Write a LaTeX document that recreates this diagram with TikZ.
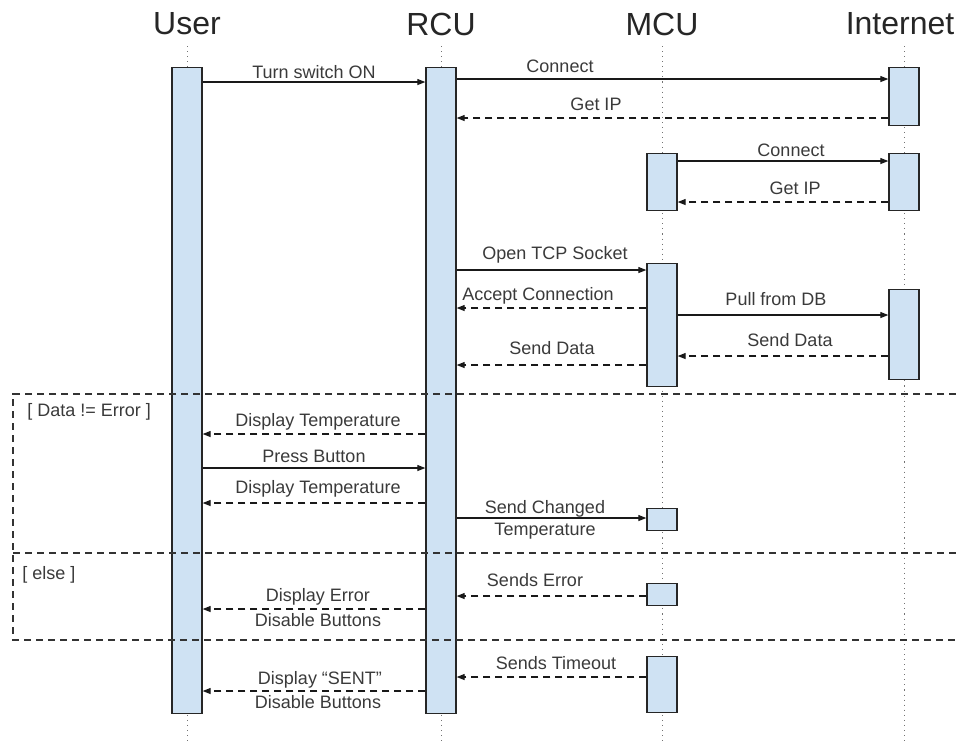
\documentclass[tikz,border=0pt]{standalone}
\usepackage{fontspec}
\setmainfont{Liberation Sans}
\usetikzlibrary{arrows.meta}
\definecolor{boxblue}{HTML}{CFE2F3}
\definecolor{txt}{HTML}{3A3A3A}
\tikzset{
  act/.style={draw=black!85, fill=boxblue, line width=1pt, minimum width=22.5pt, inner sep=0pt, anchor=north},
  head/.style={font=\fontsize{24}{28}\selectfont, text=black!85, inner sep=0pt},
  lbl/.style={font=\fontsize{13.5}{15}\selectfont, text=txt, inner sep=0pt},
  life/.style={draw=black!55, line width=0.6pt, dash pattern=on 0.8pt off 3pt},
  msg/.style={draw=black!90, line width=0.85pt, -{Triangle[length=6pt,width=4.5pt]}},
  ret/.style={msg, dash pattern=on 5.5pt off 3.5pt},
  frag/.style={draw=black!80, line width=0.85pt, dash pattern=on 5.5pt off 3.5pt}
}
\begin{document}
\begin{tikzpicture}[x=0.75pt,y=-0.75pt]
\useasboundingbox (0,0) rectangle (956,744);
% headers
\node[head] (hU) at (187,24) {User};
\node[head] (hR) at (441,24) {RCU};
\node[head] (hM) at (662,24) {MCU};
\node[head] (hI) at (900,24) {Internet};
\coordinate (eU) at (187,744);
\coordinate (eR) at (441,744);
\coordinate (eM) at (662,744);
\coordinate (eI) at (904,744);
% lifelines
\draw[life] (187,46) -- (eU);
\draw[life] (441,46) -- (eR);
\draw[life] (662,46) -- (eM);
\draw[life] (904,46) -- (eI);
% activation boxes
\node[act, minimum height=(713-67)*0.75pt] (U) at (187,67) {};
\node[act, minimum height=(713-67)*0.75pt] (R) at (441,67) {};
\node[act, minimum height=(125-67)*0.75pt] (I1) at (904,67) {};
\node[act, minimum height=(210-153)*0.75pt] (M1) at (662,153) {};
\node[act, minimum height=(210-153)*0.75pt] (I2) at (904,153) {};
\node[act, minimum height=(386-263)*0.75pt] (M2) at (662,263) {};
\node[act, minimum height=(379-289)*0.75pt] (I3) at (904,289) {};
\node[act, minimum height=(530-508)*0.75pt] (M3) at (662,508) {};
\node[act, minimum height=(605-583)*0.75pt] (M4) at (662,583) {};
\node[act, minimum height=(712-656)*0.75pt] (M5) at (662,656) {};
% fragment
\draw[frag] (956,394) -- (13,394) -- (13,640) -- (956,640);
\draw[frag] (13,553) -- (956,553);
\node[lbl, anchor=west] (g1) at (27,412) {[ Data != Error ]};
\node[lbl, anchor=west] (g2) at (22,575) {[ else ]};
% messages
\draw[msg] (U.east |- 0,82) -- (R.west |- 0,82);
\node[lbl] (l1) at (314,72) {Turn switch ON};
\draw[msg] (R.east |- 0,79) -- (I1.west |- 0,79);
\node[lbl] (l2) at (560,66) {Connect};
\draw[ret] (I1.west |- 0,118) -- (R.east |- 0,118);
\node[lbl] (l3) at (596,104) {Get IP};
\draw[msg] (M1.east |- 0,161) -- (I2.west |- 0,161);
\node[lbl] (l4) at (791,150) {Connect};
\draw[ret] (I2.west |- 0,202) -- (M1.east |- 0,202);
\node[lbl] (l5) at (795,188) {Get IP};
\draw[msg] (R.east |- 0,270) -- (M2.west |- 0,270);
\node[lbl] (l6) at (555,255) {Open TCP Socket};
\draw[ret] (M2.west |- 0,308) -- (R.east |- 0,308);
\node[lbl] (l7) at (538,296) {Accept Connection};
\draw[msg] (M2.east |- 0,315) -- (I3.west |- 0,315);
\node[lbl] (l8) at (776,299) {Pull from DB};
\draw[ret] (I3.west |- 0,356) -- (M2.east |- 0,356);
\node[lbl] (l9) at (790,340) {Send Data};
\draw[ret] (M2.west |- 0,365) -- (R.east |- 0,365);
\node[lbl] (l10) at (552,348) {Send Data};
\draw[ret] (R.west |- 0,434) -- (U.east |- 0,434);
\node[lbl] (l11) at (318,422) {Display Temperature};
\draw[msg] (U.east |- 0,468) -- (R.west |- 0,468);
\node[lbl] (l12) at (314,456) {Press Button};
\draw[ret] (R.west |- 0,503) -- (U.east |- 0,503);
\node[lbl] (l13) at (318,489) {Display Temperature};
\draw[msg] (R.east |- 0,518) -- (M3.west |- 0,518);
\node[lbl] (l14a) at (545,509) {Send Changed};
\node[lbl] (l14b) at (545,531) {Temperature};
\draw[ret] (M4.west |- 0,596) -- (R.east |- 0,596);
\node[lbl] (l15) at (535,580) {Sends Error};
\draw[ret] (R.west |- 0,609) -- (U.east |- 0,609);
\node[lbl] (l16a) at (318,597) {Display Error};
\node[lbl] (l16b) at (318,620) {Disable Buttons};
\draw[ret] (M5.west |- 0,677) -- (R.east |- 0,677);
\node[lbl] (l17) at (556,663) {Sends Timeout};
\draw[ret] (R.west |- 0,691) -- (U.east |- 0,691);
\node[lbl] (l18a) at (320,680) {Display “SENT”};
\node[lbl] (l18b) at (318,702) {Disable Buttons};
\end{tikzpicture}
\end{document}
